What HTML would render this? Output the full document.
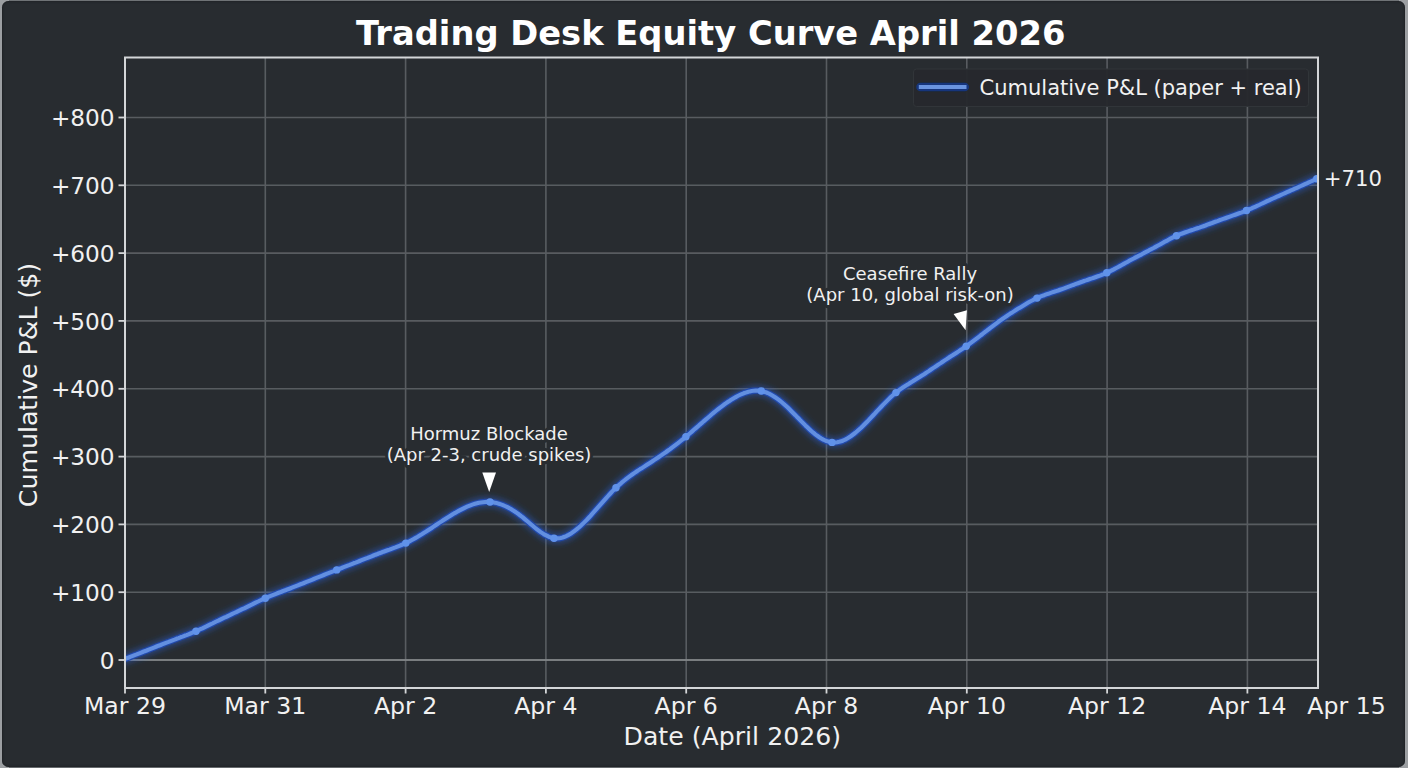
<!DOCTYPE html>
<html lang="en"><head><meta charset="utf-8"><title>Trading Desk Equity Curve April 2026</title>
<style>
html,body{margin:0;padding:0;background:#9c9fa2;}
body{width:1408px;height:768px;overflow:hidden;position:relative;}
#fig{position:absolute;left:2.4px;top:1.2px;width:1402.7px;height:765.9px;background:#282c30;border-radius:6.5px;box-shadow:inset 0 0 2px 0.6px #1c1f22;}
.edge{position:absolute;left:9px;width:1390px;}
#et{top:0;height:1.3px;background:#6f7376;}
#eb{top:766px;height:2px;background:#666a6d;}
svg{position:absolute;left:0;top:0;}
text{font-family:'DejaVu Sans','Liberation Sans',sans-serif;fill:#f1f1f1;}
</style></head><body>
<div class="edge" id="et"></div><div class="edge" id="eb"></div><div id="fig"></div>
<svg width="1408" height="768" viewBox="0 0 1408 768">
<defs>
<filter id="glow" filterUnits="userSpaceOnUse" x="0" y="0" width="1408" height="768"><feGaussianBlur stdDeviation="3"/></filter>
<filter id="soft" filterUnits="userSpaceOnUse" x="0" y="0" width="1408" height="768"><feGaussianBlur stdDeviation="0.45"/></filter>
<clipPath id="axclip"><rect x="124.5" y="57.5" width="1194.5" height="630.5"/></clipPath>
</defs>

<g stroke="#585c60" stroke-width="1.6" fill="none" filter="url(#soft)">
<line x1="265.3" y1="57.5" x2="265.3" y2="688.0"/>
<line x1="405.6" y1="57.5" x2="405.6" y2="688.0"/>
<line x1="545.9" y1="57.5" x2="545.9" y2="688.0"/>
<line x1="686.2" y1="57.5" x2="686.2" y2="688.0"/>
<line x1="826.5" y1="57.5" x2="826.5" y2="688.0"/>
<line x1="966.8" y1="57.5" x2="966.8" y2="688.0"/>
<line x1="1107.1" y1="57.5" x2="1107.1" y2="688.0"/>
<line x1="1247.4" y1="57.5" x2="1247.4" y2="688.0"/>
<line x1="125.0" y1="660.0" x2="1318.0" y2="660.0"/>
<line x1="125.0" y1="592.2" x2="1318.0" y2="592.2"/>
<line x1="125.0" y1="524.4" x2="1318.0" y2="524.4"/>
<line x1="125.0" y1="456.6" x2="1318.0" y2="456.6"/>
<line x1="125.0" y1="388.8" x2="1318.0" y2="388.8"/>
<line x1="125.0" y1="320.9" x2="1318.0" y2="320.9"/>
<line x1="125.0" y1="253.1" x2="1318.0" y2="253.1"/>
<line x1="125.0" y1="185.3" x2="1318.0" y2="185.3"/>
<line x1="125.0" y1="117.5" x2="1318.0" y2="117.5"/>
</g>
<line x1="125.0" y1="660.0" x2="1318.0" y2="660.0" stroke="#8a8e91" stroke-width="1.7" filter="url(#soft)"/>
<g clip-path="url(#axclip)"><g fill="none" stroke-linecap="round" stroke-linejoin="round">
<path d="M124.8,659.0 L126.8,658.2 L128.8,657.5 L130.8,656.7 L132.8,655.9 L134.7,655.1 L136.7,654.4 L138.7,653.6 L140.7,652.8 L142.7,652.0 L144.7,651.2 L146.7,650.5 L148.7,649.7 L150.7,648.9 L152.7,648.1 L154.6,647.3 L156.6,646.5 L158.6,645.7 L160.6,645.0 L162.6,644.2 L164.6,643.4 L166.6,642.6 L168.6,641.9 L170.6,641.1 L172.6,640.3 L174.5,639.6 L176.5,638.8 L178.5,638.1 L180.5,637.3 L182.5,636.6 L184.5,635.8 L186.5,635.1 L188.5,634.3 L190.5,633.5 L192.5,632.7 L194.4,631.9 L196.4,631.0 L198.4,630.1 L200.4,629.2 L202.4,628.3 L204.4,627.3 L206.4,626.4 L208.4,625.4 L210.4,624.4 L212.4,623.5 L214.3,622.5 L216.3,621.5 L218.3,620.6 L220.3,619.6 L222.3,618.6 L224.3,617.7 L226.3,616.8 L228.3,615.8 L230.3,614.9 L232.3,613.9 L234.2,613.0 L236.2,612.1 L238.2,611.1 L240.2,610.2 L242.2,609.2 L244.2,608.3 L246.2,607.3 L248.2,606.3 L250.2,605.3 L252.2,604.4 L254.1,603.4 L256.1,602.4 L258.1,601.5 L260.1,600.5 L262.1,599.6 L264.1,598.7 L266.1,597.9 L268.1,597.0 L270.1,596.2 L272.1,595.4 L274.0,594.6 L276.0,593.8 L278.0,593.0 L280.0,592.3 L282.0,591.5 L284.0,590.7 L286.0,590.0 L288.0,589.2 L290.0,588.5 L292.0,587.7 L293.9,586.9 L295.9,586.1 L297.9,585.3 L299.9,584.5 L301.9,583.8 L303.9,583.0 L305.9,582.2 L307.9,581.4 L309.9,580.6 L311.9,579.8 L313.8,579.0 L315.8,578.2 L317.8,577.4 L319.8,576.6 L321.8,575.8 L323.8,575.0 L325.8,574.2 L327.8,573.4 L329.8,572.6 L331.8,571.8 L333.7,571.1 L335.7,570.3 L337.7,569.5 L339.7,568.7 L341.7,568.0 L343.7,567.2 L345.7,566.4 L347.7,565.6 L349.7,564.9 L351.7,564.1 L353.6,563.3 L355.6,562.6 L357.6,561.8 L359.6,561.0 L361.6,560.2 L363.6,559.4 L365.6,558.6 L367.6,557.9 L369.6,557.1 L371.6,556.3 L373.5,555.5 L375.5,554.7 L377.5,554.0 L379.5,553.2 L381.5,552.5 L383.5,551.7 L385.5,551.0 L387.5,550.3 L389.5,549.6 L391.5,548.8 L393.4,548.1 L395.4,547.4 L397.4,546.6 L399.4,545.8 L401.4,545.0 L403.4,544.2 L405.4,543.3 L407.4,542.3 L409.4,541.4 L411.4,540.3 L413.3,539.2 L415.3,538.1 L417.3,537.0 L419.3,535.8 L421.3,534.6 L423.3,533.3 L425.3,532.1 L427.3,530.8 L429.3,529.5 L431.3,528.2 L433.2,526.9 L435.2,525.5 L437.2,524.2 L439.2,522.9 L441.2,521.6 L443.2,520.3 L445.2,519.0 L447.2,517.7 L449.2,516.5 L451.2,515.2 L453.1,514.0 L455.1,512.9 L457.1,511.7 L459.1,510.6 L461.1,509.6 L463.1,508.6 L465.1,507.6 L467.1,506.7 L469.1,505.9 L471.1,505.1 L473.0,504.4 L475.0,503.8 L477.0,503.3 L479.0,502.8 L481.0,502.5 L483.0,502.2 L485.0,502.0 L487.0,501.9 L489.0,501.9 L491.0,502.1 L492.9,502.3 L494.9,502.7 L496.9,503.1 L498.9,503.7 L500.9,504.4 L502.9,505.1 L504.9,506.0 L506.9,506.9 L508.9,507.9 L510.9,509.1 L512.8,510.3 L514.8,511.5 L516.8,512.9 L518.8,514.3 L520.8,515.9 L522.8,517.4 L524.8,519.1 L526.8,520.8 L528.8,522.5 L530.8,524.2 L532.7,525.8 L534.7,527.5 L536.7,529.1 L538.7,530.6 L540.7,532.1 L542.7,533.4 L544.7,534.7 L546.7,535.7 L548.7,536.7 L550.7,537.4 L552.6,537.9 L554.6,538.3 L556.6,538.4 L558.6,538.3 L560.6,538.0 L562.6,537.5 L564.6,536.8 L566.6,535.9 L568.6,534.9 L570.6,533.8 L572.5,532.4 L574.5,531.0 L576.5,529.4 L578.5,527.7 L580.5,525.9 L582.5,524.1 L584.5,522.1 L586.5,520.1 L588.5,518.0 L590.5,515.8 L592.4,513.6 L594.4,511.4 L596.4,509.1 L598.4,506.9 L600.4,504.6 L602.4,502.3 L604.4,500.1 L606.4,497.8 L608.4,495.7 L610.4,493.5 L612.3,491.4 L614.3,489.4 L616.3,487.5 L618.3,485.6 L620.3,483.9 L622.3,482.1 L624.3,480.5 L626.3,478.9 L628.3,477.4 L630.3,475.9 L632.2,474.5 L634.2,473.1 L636.2,471.8 L638.2,470.4 L640.2,469.1 L642.2,467.9 L644.2,466.6 L646.2,465.3 L648.2,464.0 L650.2,462.7 L652.1,461.5 L654.1,460.1 L656.1,458.8 L658.1,457.5 L660.1,456.1 L662.1,454.8 L664.1,453.4 L666.1,452.0 L668.1,450.5 L670.1,449.1 L672.0,447.6 L674.0,446.1 L676.0,444.6 L678.0,443.1 L680.0,441.5 L682.0,439.9 L684.0,438.3 L686.0,436.6 L688.0,435.0 L690.0,433.3 L691.9,431.6 L693.9,429.8 L695.9,428.1 L697.9,426.4 L699.9,424.6 L701.9,422.9 L703.9,421.1 L705.9,419.4 L707.9,417.7 L709.9,416.0 L711.8,414.3 L713.8,412.6 L715.8,411.0 L717.8,409.4 L719.8,407.8 L721.8,406.3 L723.8,404.8 L725.8,403.4 L727.8,402.0 L729.8,400.7 L731.7,399.4 L733.7,398.2 L735.7,397.1 L737.7,396.0 L739.7,395.0 L741.7,394.1 L743.7,393.3 L745.7,392.6 L747.7,392.0 L749.7,391.4 L751.6,391.0 L753.6,390.8 L755.6,390.6 L757.6,390.6 L759.6,390.8 L761.6,391.1 L763.6,391.6 L765.6,392.2 L767.6,393.0 L769.6,393.9 L771.5,395.0 L773.5,396.2 L775.5,397.5 L777.5,398.9 L779.5,400.4 L781.5,402.0 L783.5,403.7 L785.5,405.5 L787.5,407.3 L789.5,409.3 L791.4,411.2 L793.4,413.2 L795.4,415.2 L797.4,417.3 L799.4,419.3 L801.4,421.4 L803.4,423.4 L805.4,425.4 L807.4,427.3 L809.4,429.2 L811.3,431.0 L813.3,432.7 L815.3,434.3 L817.3,435.8 L819.3,437.2 L821.3,438.5 L823.3,439.6 L825.3,440.5 L827.3,441.3 L829.3,441.9 L831.2,442.3 L833.2,442.5 L835.2,442.5 L837.2,442.2 L839.2,441.8 L841.2,441.3 L843.2,440.5 L845.2,439.6 L847.2,438.5 L849.2,437.3 L851.1,436.0 L853.1,434.5 L855.1,433.0 L857.1,431.3 L859.1,429.5 L861.1,427.7 L863.1,425.8 L865.1,423.8 L867.1,421.8 L869.1,419.7 L871.0,417.6 L873.0,415.5 L875.0,413.4 L877.0,411.2 L879.0,409.1 L881.0,407.0 L883.0,404.9 L885.0,402.9 L887.0,400.9 L889.0,398.9 L890.9,397.0 L892.9,395.2 L894.9,393.5 L896.9,391.9 L898.9,390.3 L900.9,388.9 L902.9,387.5 L904.9,386.2 L906.9,384.9 L908.9,383.7 L910.8,382.5 L912.8,381.3 L914.8,380.0 L916.8,378.8 L918.8,377.6 L920.8,376.3 L922.8,375.1 L924.8,373.8 L926.8,372.4 L928.8,371.1 L930.7,369.8 L932.7,368.4 L934.7,367.1 L936.7,365.8 L938.7,364.4 L940.7,363.1 L942.7,361.7 L944.7,360.4 L946.7,359.1 L948.7,357.8 L950.6,356.5 L952.6,355.3 L954.6,354.0 L956.6,352.7 L958.6,351.4 L960.6,350.0 L962.6,348.7 L964.6,347.3 L966.6,345.9 L968.6,344.5 L970.5,343.1 L972.5,341.6 L974.5,340.1 L976.5,338.6 L978.5,337.1 L980.5,335.5 L982.5,334.0 L984.5,332.4 L986.5,330.9 L988.5,329.3 L990.4,327.8 L992.4,326.3 L994.4,324.8 L996.4,323.3 L998.4,321.8 L1000.4,320.4 L1002.4,319.0 L1004.4,317.6 L1006.4,316.3 L1008.4,314.9 L1010.3,313.6 L1012.3,312.4 L1014.3,311.1 L1016.3,309.8 L1018.3,308.6 L1020.3,307.4 L1022.3,306.2 L1024.3,305.0 L1026.3,303.8 L1028.3,302.6 L1030.2,301.5 L1032.2,300.5 L1034.2,299.4 L1036.2,298.5 L1038.2,297.6 L1040.2,296.7 L1042.2,295.9 L1044.2,295.2 L1046.2,294.4 L1048.2,293.8 L1050.1,293.1 L1052.1,292.4 L1054.1,291.8 L1056.1,291.1 L1058.1,290.5 L1060.1,289.8 L1062.1,289.1 L1064.1,288.4 L1066.1,287.6 L1068.1,286.9 L1070.0,286.2 L1072.0,285.4 L1074.0,284.7 L1076.0,283.9 L1078.0,283.2 L1080.0,282.5 L1082.0,281.8 L1084.0,281.0 L1086.0,280.4 L1088.0,279.7 L1089.9,279.0 L1091.9,278.4 L1093.9,277.7 L1095.9,277.0 L1097.9,276.3 L1099.9,275.6 L1101.9,274.8 L1103.9,274.1 L1105.9,273.2 L1107.9,272.3 L1109.8,271.4 L1111.8,270.4 L1113.8,269.4 L1115.8,268.3 L1117.8,267.2 L1119.8,266.1 L1121.8,265.0 L1123.8,263.9 L1125.8,262.8 L1127.8,261.7 L1129.7,260.6 L1131.7,259.5 L1133.7,258.5 L1135.7,257.4 L1137.7,256.4 L1139.7,255.3 L1141.7,254.3 L1143.7,253.2 L1145.7,252.2 L1147.7,251.2 L1149.6,250.1 L1151.6,249.0 L1153.6,248.0 L1155.6,246.9 L1157.6,245.8 L1159.6,244.7 L1161.6,243.6 L1163.6,242.4 L1165.6,241.3 L1167.6,240.3 L1169.5,239.2 L1171.5,238.2 L1173.5,237.2 L1175.5,236.2 L1177.5,235.4 L1179.5,234.5 L1181.5,233.7 L1183.5,233.0 L1185.5,232.3 L1187.5,231.6 L1189.4,230.9 L1191.4,230.2 L1193.4,229.6 L1195.4,228.9 L1197.4,228.2 L1199.4,227.6 L1201.4,226.9 L1203.4,226.2 L1205.4,225.5 L1207.4,224.7 L1209.3,224.0 L1211.3,223.3 L1213.3,222.5 L1215.3,221.8 L1217.3,221.1 L1219.3,220.3 L1221.3,219.6 L1223.3,218.9 L1225.3,218.2 L1227.3,217.5 L1229.2,216.8 L1231.2,216.1 L1233.2,215.4 L1235.2,214.7 L1237.2,214.0 L1239.2,213.3 L1241.2,212.6 L1243.2,211.8 L1245.2,211.0 L1247.2,210.2 L1249.1,209.4 L1251.1,208.6 L1253.1,207.7 L1255.1,206.8 L1257.1,205.9 L1259.1,205.0 L1261.1,204.0 L1263.1,203.1 L1265.1,202.2 L1267.1,201.2 L1269.0,200.3 L1271.0,199.4 L1273.0,198.5 L1275.0,197.6 L1277.0,196.7 L1279.0,195.8 L1281.0,194.9 L1283.0,194.0 L1285.0,193.1 L1287.0,192.2 L1288.9,191.3 L1290.9,190.4 L1292.9,189.6 L1294.9,188.7 L1296.9,187.8 L1298.9,186.9 L1300.9,186.0 L1302.9,185.1 L1304.9,184.2 L1306.9,183.3 L1308.8,182.4 L1310.8,181.5 L1312.8,180.6 L1314.8,179.7 L1316.8,178.8" stroke="#2a62e0" stroke-opacity="0.5" stroke-width="9.5" filter="url(#glow)"/>
<path d="M124.8,659.0 L126.8,658.2 L128.8,657.5 L130.8,656.7 L132.8,655.9 L134.7,655.1 L136.7,654.4 L138.7,653.6 L140.7,652.8 L142.7,652.0 L144.7,651.2 L146.7,650.5 L148.7,649.7 L150.7,648.9 L152.7,648.1 L154.6,647.3 L156.6,646.5 L158.6,645.7 L160.6,645.0 L162.6,644.2 L164.6,643.4 L166.6,642.6 L168.6,641.9 L170.6,641.1 L172.6,640.3 L174.5,639.6 L176.5,638.8 L178.5,638.1 L180.5,637.3 L182.5,636.6 L184.5,635.8 L186.5,635.1 L188.5,634.3 L190.5,633.5 L192.5,632.7 L194.4,631.9 L196.4,631.0 L198.4,630.1 L200.4,629.2 L202.4,628.3 L204.4,627.3 L206.4,626.4 L208.4,625.4 L210.4,624.4 L212.4,623.5 L214.3,622.5 L216.3,621.5 L218.3,620.6 L220.3,619.6 L222.3,618.6 L224.3,617.7 L226.3,616.8 L228.3,615.8 L230.3,614.9 L232.3,613.9 L234.2,613.0 L236.2,612.1 L238.2,611.1 L240.2,610.2 L242.2,609.2 L244.2,608.3 L246.2,607.3 L248.2,606.3 L250.2,605.3 L252.2,604.4 L254.1,603.4 L256.1,602.4 L258.1,601.5 L260.1,600.5 L262.1,599.6 L264.1,598.7 L266.1,597.9 L268.1,597.0 L270.1,596.2 L272.1,595.4 L274.0,594.6 L276.0,593.8 L278.0,593.0 L280.0,592.3 L282.0,591.5 L284.0,590.7 L286.0,590.0 L288.0,589.2 L290.0,588.5 L292.0,587.7 L293.9,586.9 L295.9,586.1 L297.9,585.3 L299.9,584.5 L301.9,583.8 L303.9,583.0 L305.9,582.2 L307.9,581.4 L309.9,580.6 L311.9,579.8 L313.8,579.0 L315.8,578.2 L317.8,577.4 L319.8,576.6 L321.8,575.8 L323.8,575.0 L325.8,574.2 L327.8,573.4 L329.8,572.6 L331.8,571.8 L333.7,571.1 L335.7,570.3 L337.7,569.5 L339.7,568.7 L341.7,568.0 L343.7,567.2 L345.7,566.4 L347.7,565.6 L349.7,564.9 L351.7,564.1 L353.6,563.3 L355.6,562.6 L357.6,561.8 L359.6,561.0 L361.6,560.2 L363.6,559.4 L365.6,558.6 L367.6,557.9 L369.6,557.1 L371.6,556.3 L373.5,555.5 L375.5,554.7 L377.5,554.0 L379.5,553.2 L381.5,552.5 L383.5,551.7 L385.5,551.0 L387.5,550.3 L389.5,549.6 L391.5,548.8 L393.4,548.1 L395.4,547.4 L397.4,546.6 L399.4,545.8 L401.4,545.0 L403.4,544.2 L405.4,543.3 L407.4,542.3 L409.4,541.4 L411.4,540.3 L413.3,539.2 L415.3,538.1 L417.3,537.0 L419.3,535.8 L421.3,534.6 L423.3,533.3 L425.3,532.1 L427.3,530.8 L429.3,529.5 L431.3,528.2 L433.2,526.9 L435.2,525.5 L437.2,524.2 L439.2,522.9 L441.2,521.6 L443.2,520.3 L445.2,519.0 L447.2,517.7 L449.2,516.5 L451.2,515.2 L453.1,514.0 L455.1,512.9 L457.1,511.7 L459.1,510.6 L461.1,509.6 L463.1,508.6 L465.1,507.6 L467.1,506.7 L469.1,505.9 L471.1,505.1 L473.0,504.4 L475.0,503.8 L477.0,503.3 L479.0,502.8 L481.0,502.5 L483.0,502.2 L485.0,502.0 L487.0,501.9 L489.0,501.9 L491.0,502.1 L492.9,502.3 L494.9,502.7 L496.9,503.1 L498.9,503.7 L500.9,504.4 L502.9,505.1 L504.9,506.0 L506.9,506.9 L508.9,507.9 L510.9,509.1 L512.8,510.3 L514.8,511.5 L516.8,512.9 L518.8,514.3 L520.8,515.9 L522.8,517.4 L524.8,519.1 L526.8,520.8 L528.8,522.5 L530.8,524.2 L532.7,525.8 L534.7,527.5 L536.7,529.1 L538.7,530.6 L540.7,532.1 L542.7,533.4 L544.7,534.7 L546.7,535.7 L548.7,536.7 L550.7,537.4 L552.6,537.9 L554.6,538.3 L556.6,538.4 L558.6,538.3 L560.6,538.0 L562.6,537.5 L564.6,536.8 L566.6,535.9 L568.6,534.9 L570.6,533.8 L572.5,532.4 L574.5,531.0 L576.5,529.4 L578.5,527.7 L580.5,525.9 L582.5,524.1 L584.5,522.1 L586.5,520.1 L588.5,518.0 L590.5,515.8 L592.4,513.6 L594.4,511.4 L596.4,509.1 L598.4,506.9 L600.4,504.6 L602.4,502.3 L604.4,500.1 L606.4,497.8 L608.4,495.7 L610.4,493.5 L612.3,491.4 L614.3,489.4 L616.3,487.5 L618.3,485.6 L620.3,483.9 L622.3,482.1 L624.3,480.5 L626.3,478.9 L628.3,477.4 L630.3,475.9 L632.2,474.5 L634.2,473.1 L636.2,471.8 L638.2,470.4 L640.2,469.1 L642.2,467.9 L644.2,466.6 L646.2,465.3 L648.2,464.0 L650.2,462.7 L652.1,461.5 L654.1,460.1 L656.1,458.8 L658.1,457.5 L660.1,456.1 L662.1,454.8 L664.1,453.4 L666.1,452.0 L668.1,450.5 L670.1,449.1 L672.0,447.6 L674.0,446.1 L676.0,444.6 L678.0,443.1 L680.0,441.5 L682.0,439.9 L684.0,438.3 L686.0,436.6 L688.0,435.0 L690.0,433.3 L691.9,431.6 L693.9,429.8 L695.9,428.1 L697.9,426.4 L699.9,424.6 L701.9,422.9 L703.9,421.1 L705.9,419.4 L707.9,417.7 L709.9,416.0 L711.8,414.3 L713.8,412.6 L715.8,411.0 L717.8,409.4 L719.8,407.8 L721.8,406.3 L723.8,404.8 L725.8,403.4 L727.8,402.0 L729.8,400.7 L731.7,399.4 L733.7,398.2 L735.7,397.1 L737.7,396.0 L739.7,395.0 L741.7,394.1 L743.7,393.3 L745.7,392.6 L747.7,392.0 L749.7,391.4 L751.6,391.0 L753.6,390.8 L755.6,390.6 L757.6,390.6 L759.6,390.8 L761.6,391.1 L763.6,391.6 L765.6,392.2 L767.6,393.0 L769.6,393.9 L771.5,395.0 L773.5,396.2 L775.5,397.5 L777.5,398.9 L779.5,400.4 L781.5,402.0 L783.5,403.7 L785.5,405.5 L787.5,407.3 L789.5,409.3 L791.4,411.2 L793.4,413.2 L795.4,415.2 L797.4,417.3 L799.4,419.3 L801.4,421.4 L803.4,423.4 L805.4,425.4 L807.4,427.3 L809.4,429.2 L811.3,431.0 L813.3,432.7 L815.3,434.3 L817.3,435.8 L819.3,437.2 L821.3,438.5 L823.3,439.6 L825.3,440.5 L827.3,441.3 L829.3,441.9 L831.2,442.3 L833.2,442.5 L835.2,442.5 L837.2,442.2 L839.2,441.8 L841.2,441.3 L843.2,440.5 L845.2,439.6 L847.2,438.5 L849.2,437.3 L851.1,436.0 L853.1,434.5 L855.1,433.0 L857.1,431.3 L859.1,429.5 L861.1,427.7 L863.1,425.8 L865.1,423.8 L867.1,421.8 L869.1,419.7 L871.0,417.6 L873.0,415.5 L875.0,413.4 L877.0,411.2 L879.0,409.1 L881.0,407.0 L883.0,404.9 L885.0,402.9 L887.0,400.9 L889.0,398.9 L890.9,397.0 L892.9,395.2 L894.9,393.5 L896.9,391.9 L898.9,390.3 L900.9,388.9 L902.9,387.5 L904.9,386.2 L906.9,384.9 L908.9,383.7 L910.8,382.5 L912.8,381.3 L914.8,380.0 L916.8,378.8 L918.8,377.6 L920.8,376.3 L922.8,375.1 L924.8,373.8 L926.8,372.4 L928.8,371.1 L930.7,369.8 L932.7,368.4 L934.7,367.1 L936.7,365.8 L938.7,364.4 L940.7,363.1 L942.7,361.7 L944.7,360.4 L946.7,359.1 L948.7,357.8 L950.6,356.5 L952.6,355.3 L954.6,354.0 L956.6,352.7 L958.6,351.4 L960.6,350.0 L962.6,348.7 L964.6,347.3 L966.6,345.9 L968.6,344.5 L970.5,343.1 L972.5,341.6 L974.5,340.1 L976.5,338.6 L978.5,337.1 L980.5,335.5 L982.5,334.0 L984.5,332.4 L986.5,330.9 L988.5,329.3 L990.4,327.8 L992.4,326.3 L994.4,324.8 L996.4,323.3 L998.4,321.8 L1000.4,320.4 L1002.4,319.0 L1004.4,317.6 L1006.4,316.3 L1008.4,314.9 L1010.3,313.6 L1012.3,312.4 L1014.3,311.1 L1016.3,309.8 L1018.3,308.6 L1020.3,307.4 L1022.3,306.2 L1024.3,305.0 L1026.3,303.8 L1028.3,302.6 L1030.2,301.5 L1032.2,300.5 L1034.2,299.4 L1036.2,298.5 L1038.2,297.6 L1040.2,296.7 L1042.2,295.9 L1044.2,295.2 L1046.2,294.4 L1048.2,293.8 L1050.1,293.1 L1052.1,292.4 L1054.1,291.8 L1056.1,291.1 L1058.1,290.5 L1060.1,289.8 L1062.1,289.1 L1064.1,288.4 L1066.1,287.6 L1068.1,286.9 L1070.0,286.2 L1072.0,285.4 L1074.0,284.7 L1076.0,283.9 L1078.0,283.2 L1080.0,282.5 L1082.0,281.8 L1084.0,281.0 L1086.0,280.4 L1088.0,279.7 L1089.9,279.0 L1091.9,278.4 L1093.9,277.7 L1095.9,277.0 L1097.9,276.3 L1099.9,275.6 L1101.9,274.8 L1103.9,274.1 L1105.9,273.2 L1107.9,272.3 L1109.8,271.4 L1111.8,270.4 L1113.8,269.4 L1115.8,268.3 L1117.8,267.2 L1119.8,266.1 L1121.8,265.0 L1123.8,263.9 L1125.8,262.8 L1127.8,261.7 L1129.7,260.6 L1131.7,259.5 L1133.7,258.5 L1135.7,257.4 L1137.7,256.4 L1139.7,255.3 L1141.7,254.3 L1143.7,253.2 L1145.7,252.2 L1147.7,251.2 L1149.6,250.1 L1151.6,249.0 L1153.6,248.0 L1155.6,246.9 L1157.6,245.8 L1159.6,244.7 L1161.6,243.6 L1163.6,242.4 L1165.6,241.3 L1167.6,240.3 L1169.5,239.2 L1171.5,238.2 L1173.5,237.2 L1175.5,236.2 L1177.5,235.4 L1179.5,234.5 L1181.5,233.7 L1183.5,233.0 L1185.5,232.3 L1187.5,231.6 L1189.4,230.9 L1191.4,230.2 L1193.4,229.6 L1195.4,228.9 L1197.4,228.2 L1199.4,227.6 L1201.4,226.9 L1203.4,226.2 L1205.4,225.5 L1207.4,224.7 L1209.3,224.0 L1211.3,223.3 L1213.3,222.5 L1215.3,221.8 L1217.3,221.1 L1219.3,220.3 L1221.3,219.6 L1223.3,218.9 L1225.3,218.2 L1227.3,217.5 L1229.2,216.8 L1231.2,216.1 L1233.2,215.4 L1235.2,214.7 L1237.2,214.0 L1239.2,213.3 L1241.2,212.6 L1243.2,211.8 L1245.2,211.0 L1247.2,210.2 L1249.1,209.4 L1251.1,208.6 L1253.1,207.7 L1255.1,206.8 L1257.1,205.9 L1259.1,205.0 L1261.1,204.0 L1263.1,203.1 L1265.1,202.2 L1267.1,201.2 L1269.0,200.3 L1271.0,199.4 L1273.0,198.5 L1275.0,197.6 L1277.0,196.7 L1279.0,195.8 L1281.0,194.9 L1283.0,194.0 L1285.0,193.1 L1287.0,192.2 L1288.9,191.3 L1290.9,190.4 L1292.9,189.6 L1294.9,188.7 L1296.9,187.8 L1298.9,186.9 L1300.9,186.0 L1302.9,185.1 L1304.9,184.2 L1306.9,183.3 L1308.8,182.4 L1310.8,181.5 L1312.8,180.6 L1314.8,179.7 L1316.8,178.8" stroke="#2049ac" stroke-width="6.4" filter="url(#soft)"/>
<path d="M124.8,659.0 L126.8,658.2 L128.8,657.5 L130.8,656.7 L132.8,655.9 L134.7,655.1 L136.7,654.4 L138.7,653.6 L140.7,652.8 L142.7,652.0 L144.7,651.2 L146.7,650.5 L148.7,649.7 L150.7,648.9 L152.7,648.1 L154.6,647.3 L156.6,646.5 L158.6,645.7 L160.6,645.0 L162.6,644.2 L164.6,643.4 L166.6,642.6 L168.6,641.9 L170.6,641.1 L172.6,640.3 L174.5,639.6 L176.5,638.8 L178.5,638.1 L180.5,637.3 L182.5,636.6 L184.5,635.8 L186.5,635.1 L188.5,634.3 L190.5,633.5 L192.5,632.7 L194.4,631.9 L196.4,631.0 L198.4,630.1 L200.4,629.2 L202.4,628.3 L204.4,627.3 L206.4,626.4 L208.4,625.4 L210.4,624.4 L212.4,623.5 L214.3,622.5 L216.3,621.5 L218.3,620.6 L220.3,619.6 L222.3,618.6 L224.3,617.7 L226.3,616.8 L228.3,615.8 L230.3,614.9 L232.3,613.9 L234.2,613.0 L236.2,612.1 L238.2,611.1 L240.2,610.2 L242.2,609.2 L244.2,608.3 L246.2,607.3 L248.2,606.3 L250.2,605.3 L252.2,604.4 L254.1,603.4 L256.1,602.4 L258.1,601.5 L260.1,600.5 L262.1,599.6 L264.1,598.7 L266.1,597.9 L268.1,597.0 L270.1,596.2 L272.1,595.4 L274.0,594.6 L276.0,593.8 L278.0,593.0 L280.0,592.3 L282.0,591.5 L284.0,590.7 L286.0,590.0 L288.0,589.2 L290.0,588.5 L292.0,587.7 L293.9,586.9 L295.9,586.1 L297.9,585.3 L299.9,584.5 L301.9,583.8 L303.9,583.0 L305.9,582.2 L307.9,581.4 L309.9,580.6 L311.9,579.8 L313.8,579.0 L315.8,578.2 L317.8,577.4 L319.8,576.6 L321.8,575.8 L323.8,575.0 L325.8,574.2 L327.8,573.4 L329.8,572.6 L331.8,571.8 L333.7,571.1 L335.7,570.3 L337.7,569.5 L339.7,568.7 L341.7,568.0 L343.7,567.2 L345.7,566.4 L347.7,565.6 L349.7,564.9 L351.7,564.1 L353.6,563.3 L355.6,562.6 L357.6,561.8 L359.6,561.0 L361.6,560.2 L363.6,559.4 L365.6,558.6 L367.6,557.9 L369.6,557.1 L371.6,556.3 L373.5,555.5 L375.5,554.7 L377.5,554.0 L379.5,553.2 L381.5,552.5 L383.5,551.7 L385.5,551.0 L387.5,550.3 L389.5,549.6 L391.5,548.8 L393.4,548.1 L395.4,547.4 L397.4,546.6 L399.4,545.8 L401.4,545.0 L403.4,544.2 L405.4,543.3 L407.4,542.3 L409.4,541.4 L411.4,540.3 L413.3,539.2 L415.3,538.1 L417.3,537.0 L419.3,535.8 L421.3,534.6 L423.3,533.3 L425.3,532.1 L427.3,530.8 L429.3,529.5 L431.3,528.2 L433.2,526.9 L435.2,525.5 L437.2,524.2 L439.2,522.9 L441.2,521.6 L443.2,520.3 L445.2,519.0 L447.2,517.7 L449.2,516.5 L451.2,515.2 L453.1,514.0 L455.1,512.9 L457.1,511.7 L459.1,510.6 L461.1,509.6 L463.1,508.6 L465.1,507.6 L467.1,506.7 L469.1,505.9 L471.1,505.1 L473.0,504.4 L475.0,503.8 L477.0,503.3 L479.0,502.8 L481.0,502.5 L483.0,502.2 L485.0,502.0 L487.0,501.9 L489.0,501.9 L491.0,502.1 L492.9,502.3 L494.9,502.7 L496.9,503.1 L498.9,503.7 L500.9,504.4 L502.9,505.1 L504.9,506.0 L506.9,506.9 L508.9,507.9 L510.9,509.1 L512.8,510.3 L514.8,511.5 L516.8,512.9 L518.8,514.3 L520.8,515.9 L522.8,517.4 L524.8,519.1 L526.8,520.8 L528.8,522.5 L530.8,524.2 L532.7,525.8 L534.7,527.5 L536.7,529.1 L538.7,530.6 L540.7,532.1 L542.7,533.4 L544.7,534.7 L546.7,535.7 L548.7,536.7 L550.7,537.4 L552.6,537.9 L554.6,538.3 L556.6,538.4 L558.6,538.3 L560.6,538.0 L562.6,537.5 L564.6,536.8 L566.6,535.9 L568.6,534.9 L570.6,533.8 L572.5,532.4 L574.5,531.0 L576.5,529.4 L578.5,527.7 L580.5,525.9 L582.5,524.1 L584.5,522.1 L586.5,520.1 L588.5,518.0 L590.5,515.8 L592.4,513.6 L594.4,511.4 L596.4,509.1 L598.4,506.9 L600.4,504.6 L602.4,502.3 L604.4,500.1 L606.4,497.8 L608.4,495.7 L610.4,493.5 L612.3,491.4 L614.3,489.4 L616.3,487.5 L618.3,485.6 L620.3,483.9 L622.3,482.1 L624.3,480.5 L626.3,478.9 L628.3,477.4 L630.3,475.9 L632.2,474.5 L634.2,473.1 L636.2,471.8 L638.2,470.4 L640.2,469.1 L642.2,467.9 L644.2,466.6 L646.2,465.3 L648.2,464.0 L650.2,462.7 L652.1,461.5 L654.1,460.1 L656.1,458.8 L658.1,457.5 L660.1,456.1 L662.1,454.8 L664.1,453.4 L666.1,452.0 L668.1,450.5 L670.1,449.1 L672.0,447.6 L674.0,446.1 L676.0,444.6 L678.0,443.1 L680.0,441.5 L682.0,439.9 L684.0,438.3 L686.0,436.6 L688.0,435.0 L690.0,433.3 L691.9,431.6 L693.9,429.8 L695.9,428.1 L697.9,426.4 L699.9,424.6 L701.9,422.9 L703.9,421.1 L705.9,419.4 L707.9,417.7 L709.9,416.0 L711.8,414.3 L713.8,412.6 L715.8,411.0 L717.8,409.4 L719.8,407.8 L721.8,406.3 L723.8,404.8 L725.8,403.4 L727.8,402.0 L729.8,400.7 L731.7,399.4 L733.7,398.2 L735.7,397.1 L737.7,396.0 L739.7,395.0 L741.7,394.1 L743.7,393.3 L745.7,392.6 L747.7,392.0 L749.7,391.4 L751.6,391.0 L753.6,390.8 L755.6,390.6 L757.6,390.6 L759.6,390.8 L761.6,391.1 L763.6,391.6 L765.6,392.2 L767.6,393.0 L769.6,393.9 L771.5,395.0 L773.5,396.2 L775.5,397.5 L777.5,398.9 L779.5,400.4 L781.5,402.0 L783.5,403.7 L785.5,405.5 L787.5,407.3 L789.5,409.3 L791.4,411.2 L793.4,413.2 L795.4,415.2 L797.4,417.3 L799.4,419.3 L801.4,421.4 L803.4,423.4 L805.4,425.4 L807.4,427.3 L809.4,429.2 L811.3,431.0 L813.3,432.7 L815.3,434.3 L817.3,435.8 L819.3,437.2 L821.3,438.5 L823.3,439.6 L825.3,440.5 L827.3,441.3 L829.3,441.9 L831.2,442.3 L833.2,442.5 L835.2,442.5 L837.2,442.2 L839.2,441.8 L841.2,441.3 L843.2,440.5 L845.2,439.6 L847.2,438.5 L849.2,437.3 L851.1,436.0 L853.1,434.5 L855.1,433.0 L857.1,431.3 L859.1,429.5 L861.1,427.7 L863.1,425.8 L865.1,423.8 L867.1,421.8 L869.1,419.7 L871.0,417.6 L873.0,415.5 L875.0,413.4 L877.0,411.2 L879.0,409.1 L881.0,407.0 L883.0,404.9 L885.0,402.9 L887.0,400.9 L889.0,398.9 L890.9,397.0 L892.9,395.2 L894.9,393.5 L896.9,391.9 L898.9,390.3 L900.9,388.9 L902.9,387.5 L904.9,386.2 L906.9,384.9 L908.9,383.7 L910.8,382.5 L912.8,381.3 L914.8,380.0 L916.8,378.8 L918.8,377.6 L920.8,376.3 L922.8,375.1 L924.8,373.8 L926.8,372.4 L928.8,371.1 L930.7,369.8 L932.7,368.4 L934.7,367.1 L936.7,365.8 L938.7,364.4 L940.7,363.1 L942.7,361.7 L944.7,360.4 L946.7,359.1 L948.7,357.8 L950.6,356.5 L952.6,355.3 L954.6,354.0 L956.6,352.7 L958.6,351.4 L960.6,350.0 L962.6,348.7 L964.6,347.3 L966.6,345.9 L968.6,344.5 L970.5,343.1 L972.5,341.6 L974.5,340.1 L976.5,338.6 L978.5,337.1 L980.5,335.5 L982.5,334.0 L984.5,332.4 L986.5,330.9 L988.5,329.3 L990.4,327.8 L992.4,326.3 L994.4,324.8 L996.4,323.3 L998.4,321.8 L1000.4,320.4 L1002.4,319.0 L1004.4,317.6 L1006.4,316.3 L1008.4,314.9 L1010.3,313.6 L1012.3,312.4 L1014.3,311.1 L1016.3,309.8 L1018.3,308.6 L1020.3,307.4 L1022.3,306.2 L1024.3,305.0 L1026.3,303.8 L1028.3,302.6 L1030.2,301.5 L1032.2,300.5 L1034.2,299.4 L1036.2,298.5 L1038.2,297.6 L1040.2,296.7 L1042.2,295.9 L1044.2,295.2 L1046.2,294.4 L1048.2,293.8 L1050.1,293.1 L1052.1,292.4 L1054.1,291.8 L1056.1,291.1 L1058.1,290.5 L1060.1,289.8 L1062.1,289.1 L1064.1,288.4 L1066.1,287.6 L1068.1,286.9 L1070.0,286.2 L1072.0,285.4 L1074.0,284.7 L1076.0,283.9 L1078.0,283.2 L1080.0,282.5 L1082.0,281.8 L1084.0,281.0 L1086.0,280.4 L1088.0,279.7 L1089.9,279.0 L1091.9,278.4 L1093.9,277.7 L1095.9,277.0 L1097.9,276.3 L1099.9,275.6 L1101.9,274.8 L1103.9,274.1 L1105.9,273.2 L1107.9,272.3 L1109.8,271.4 L1111.8,270.4 L1113.8,269.4 L1115.8,268.3 L1117.8,267.2 L1119.8,266.1 L1121.8,265.0 L1123.8,263.9 L1125.8,262.8 L1127.8,261.7 L1129.7,260.6 L1131.7,259.5 L1133.7,258.5 L1135.7,257.4 L1137.7,256.4 L1139.7,255.3 L1141.7,254.3 L1143.7,253.2 L1145.7,252.2 L1147.7,251.2 L1149.6,250.1 L1151.6,249.0 L1153.6,248.0 L1155.6,246.9 L1157.6,245.8 L1159.6,244.7 L1161.6,243.6 L1163.6,242.4 L1165.6,241.3 L1167.6,240.3 L1169.5,239.2 L1171.5,238.2 L1173.5,237.2 L1175.5,236.2 L1177.5,235.4 L1179.5,234.5 L1181.5,233.7 L1183.5,233.0 L1185.5,232.3 L1187.5,231.6 L1189.4,230.9 L1191.4,230.2 L1193.4,229.6 L1195.4,228.9 L1197.4,228.2 L1199.4,227.6 L1201.4,226.9 L1203.4,226.2 L1205.4,225.5 L1207.4,224.7 L1209.3,224.0 L1211.3,223.3 L1213.3,222.5 L1215.3,221.8 L1217.3,221.1 L1219.3,220.3 L1221.3,219.6 L1223.3,218.9 L1225.3,218.2 L1227.3,217.5 L1229.2,216.8 L1231.2,216.1 L1233.2,215.4 L1235.2,214.7 L1237.2,214.0 L1239.2,213.3 L1241.2,212.6 L1243.2,211.8 L1245.2,211.0 L1247.2,210.2 L1249.1,209.4 L1251.1,208.6 L1253.1,207.7 L1255.1,206.8 L1257.1,205.9 L1259.1,205.0 L1261.1,204.0 L1263.1,203.1 L1265.1,202.2 L1267.1,201.2 L1269.0,200.3 L1271.0,199.4 L1273.0,198.5 L1275.0,197.6 L1277.0,196.7 L1279.0,195.8 L1281.0,194.9 L1283.0,194.0 L1285.0,193.1 L1287.0,192.2 L1288.9,191.3 L1290.9,190.4 L1292.9,189.6 L1294.9,188.7 L1296.9,187.8 L1298.9,186.9 L1300.9,186.0 L1302.9,185.1 L1304.9,184.2 L1306.9,183.3 L1308.8,182.4 L1310.8,181.5 L1312.8,180.6 L1314.8,179.7 L1316.8,178.8" stroke="#628fe0" stroke-width="4.1"/>
</g>
<g fill="#6092ea">
<circle cx="196.0" cy="631.2" r="3.7"/>
<circle cx="265.3" cy="598.2" r="3.7"/>
<circle cx="336.7" cy="569.9" r="3.7"/>
<circle cx="405.8" cy="543.1" r="3.7"/>
<circle cx="490.0" cy="502.0" r="3.7"/>
<circle cx="554.0" cy="538.2" r="3.7"/>
<circle cx="616.0" cy="487.8" r="3.7"/>
<circle cx="685.9" cy="436.7" r="3.7"/>
<circle cx="761.2" cy="391.0" r="3.7"/>
<circle cx="832.0" cy="442.4" r="3.7"/>
<circle cx="896.0" cy="392.6" r="3.7"/>
<circle cx="966.2" cy="346.2" r="3.7"/>
<circle cx="1037.0" cy="298.1" r="3.7"/>
<circle cx="1106.8" cy="272.8" r="3.7"/>
<circle cx="1176.5" cy="235.8" r="3.7"/>
<circle cx="1246.5" cy="210.5" r="3.7"/>
<circle cx="1316.8" cy="178.8" r="3.7"/>
</g></g>
<rect x="913.5" y="69" width="395" height="37.5" rx="3" fill="#26292d" fill-opacity="0.96" stroke="#313539" stroke-width="1"/>
<g fill="none"><path d="M920.5,87 H964.8" stroke="#16367c" stroke-width="8.6" stroke-linecap="round" filter="url(#soft)"/><path d="M918.8,87 H966.5" stroke="#6a94df" stroke-width="4.2"/></g>
<text x="979.6" y="95" font-size="21.0">Cumulative P&amp;L (paper + real)</text>
<rect x="125.0" y="57.5" width="1193.0" height="630.5" fill="none" stroke="#d4d6d8" stroke-width="2"/>
<g stroke="#d4d6d8" stroke-width="1.8">
<line x1="125.0" y1="688.0" x2="125.0" y2="693.5"/>
<line x1="265.3" y1="688.0" x2="265.3" y2="693.5"/>
<line x1="405.6" y1="688.0" x2="405.6" y2="693.5"/>
<line x1="545.9" y1="688.0" x2="545.9" y2="693.5"/>
<line x1="686.2" y1="688.0" x2="686.2" y2="693.5"/>
<line x1="826.5" y1="688.0" x2="826.5" y2="693.5"/>
<line x1="966.8" y1="688.0" x2="966.8" y2="693.5"/>
<line x1="1107.1" y1="688.0" x2="1107.1" y2="693.5"/>
<line x1="1247.4" y1="688.0" x2="1247.4" y2="693.5"/>
<line x1="118.5" y1="660.0" x2="125.0" y2="660.0"/>
<line x1="118.5" y1="592.2" x2="125.0" y2="592.2"/>
<line x1="118.5" y1="524.4" x2="125.0" y2="524.4"/>
<line x1="118.5" y1="456.6" x2="125.0" y2="456.6"/>
<line x1="118.5" y1="388.8" x2="125.0" y2="388.8"/>
<line x1="118.5" y1="320.9" x2="125.0" y2="320.9"/>
<line x1="118.5" y1="253.1" x2="125.0" y2="253.1"/>
<line x1="118.5" y1="185.3" x2="125.0" y2="185.3"/>
<line x1="118.5" y1="117.5" x2="125.0" y2="117.5"/>
</g>
<g font-size="23.6" text-anchor="middle">
<text x="125.0" y="714.4">Mar 29</text>
<text x="265.3" y="714.4">Mar 31</text>
<text x="405.6" y="714.4">Apr 2</text>
<text x="545.9" y="714.4">Apr 4</text>
<text x="686.2" y="714.4">Apr 6</text>
<text x="826.5" y="714.4">Apr 8</text>
<text x="966.8" y="714.4">Apr 10</text>
<text x="1107.1" y="714.4">Apr 12</text>
<text x="1247.4" y="714.4">Apr 14</text>
<text x="1346.5" y="714.4">Apr 15</text>
</g>
<g font-size="23.2" text-anchor="end">
<text x="114.6" y="668.7">0</text>
<text x="114.6" y="600.9">+100</text>
<text x="114.6" y="533.1">+200</text>
<text x="114.6" y="465.3">+300</text>
<text x="114.6" y="397.4">+400</text>
<text x="114.6" y="329.6">+500</text>
<text x="114.6" y="261.8">+600</text>
<text x="114.6" y="194.0">+700</text>
<text x="114.6" y="126.2">+800</text>
</g>
<text x="1323.8" y="185.8" font-size="21.2">+710</text>
<text transform="translate(710.7,44.6) scale(0.9746,1)" font-size="34.6" font-weight="bold" text-anchor="middle" style="fill:#ffffff">Trading Desk Equity Curve April 2026</text>
<text x="732.3" y="745.4" font-size="25.2" text-anchor="middle">Date (April 2026)</text>
<text transform="translate(37.4,385) rotate(-90)" font-size="25.2" text-anchor="middle">Cumulative P&amp;L ($)</text>
<g font-size="18.0" text-anchor="middle" style="paint-order:stroke fill;stroke:#282c30;stroke-width:6.5px;stroke-linejoin:round">
<text x="489" y="439.8">Hormuz Blockade</text><text x="489" y="461">(Apr 2-3, crude spikes)</text>
<text x="910" y="279.8">Ceasefire Rally</text><text x="910" y="300.8">(Apr 10, global risk-on)</text>
</g>
<polygon points="482.3,472.5 496,472.5 489.2,492" fill="#ffffff"/>
<polygon points="953.6,313.9 966.9,310.2 965.6,330.3" fill="#ffffff"/>
</svg></body></html>
